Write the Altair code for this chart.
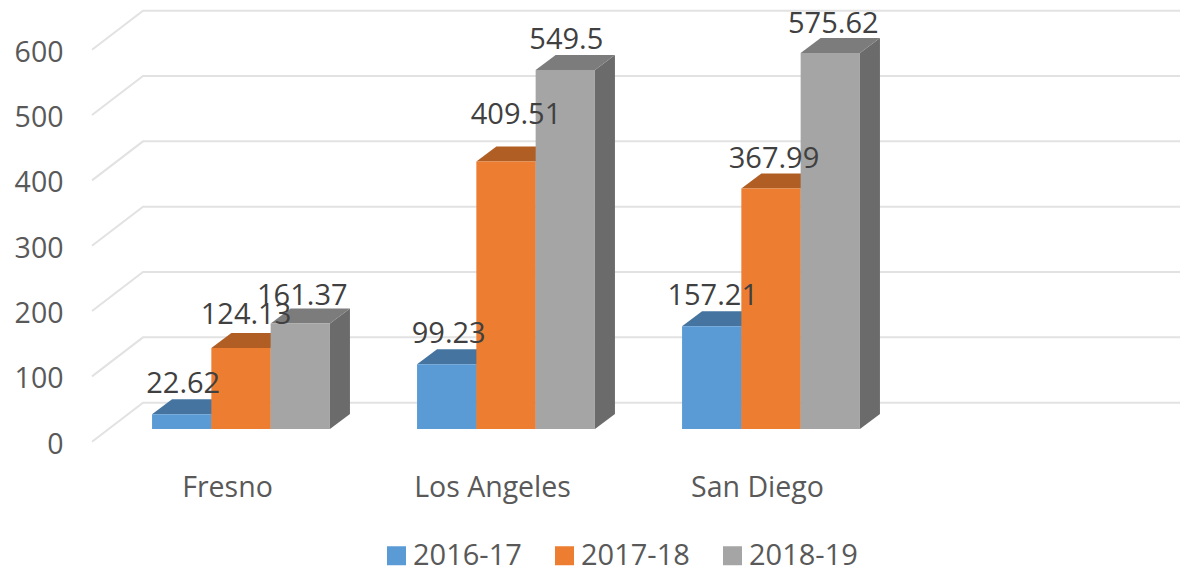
import altair as alt
import pandas as pd

cities = ["Fresno", "Los Angeles", "San Diego"]
series = ["2016-17", "2017-18", "2018-19"]
v2016 = [22.62, 99.23, 157.21]
v2017 = [124.13, 409.51, 367.99]
v2018 = [161.37, 549.5, 575.62]
y_ticks = [0, 100, 200, 300, 400, 500, 600]

front_colors = ["#5B9BD5", "#ED7D31", "#A5A5A5"]
top_colors = ["#44749F", "#B15E24", "#7C7C7C"]
side_colors = ["#3A6A96", "#A0521C", "#6B6B6B"]

# layout, in scale units (1 x unit = one category, 1 y unit = one value unit)
PX_X = 265.0
PX_Y = 0.6533
BAR_W = 59.3 / PX_X
DX = 20 / PX_X
DY = 15 / PX_Y
X_DOM = [(66 - 241) / PX_X, (1180 - 241) / PX_X]
Y_DOM = [(429 - 465) / PX_Y, (429 - 8) / PX_Y]
WALL_LEFT = (92 - 241) / PX_X
WALL_BACK = (143 - 241) / PX_X
FRONT_V = -19.4
BACK_V = 40.3
# label nudges in pixels: (series, city) -> (dx, dy above the bar top)
label_dx = [[1.5, 2, 1], [5, 10, 3], [2, 1, 3]]
label_dy = [[30, 30, 30], [33, 46, 30], [28, 30, 29]]

values = [v2016, v2017, v2018]
font = "Open Sans"

front_rows, top_rows, side_rows, label_rows = [], [], [], []
for s, name in enumerate(series):
    for c, city in enumerate(cities):
        v = values[s][c]
        x0 = c + (s - 1.5) * BAR_W
        x1 = x0 + BAR_W
        bid = f"{s}-{c}"
        front_rows.append(dict(s=name, x=x0, x2=x1, y=v, y2=0))
        top_rows += [
            dict(s=name, id=bid, y=v, x=x0, x2=x1),
            dict(s=name, id=bid, y=v + DY, x=x0 + DX, x2=x1 + DX),
        ]
        side_rows += [
            dict(s=name, id=bid, x=x1, y=v, y2=0),
            dict(s=name, id=bid, x=x1 + DX, y=v + DY, y2=DY),
        ]
        label_rows.append(dict(
            s=name,
            x=(x0 + x1) / 2 + label_dx[s][c] / PX_X,
            y=v + label_dy[s][c] / PX_Y,
            t=str(v),
        ))
front_df = pd.DataFrame(front_rows)
top_df = pd.DataFrame(top_rows)
side_df = pd.DataFrame(side_rows)
label_df = pd.DataFrame(label_rows)

grid_rows = []
for t in y_ticks:
    grid_rows += [
        dict(t=t, x=WALL_LEFT, y=t + FRONT_V, o=0),
        dict(t=t, x=WALL_BACK, y=t + BACK_V, o=1),
        dict(t=t, x=X_DOM[1], y=t + BACK_V, o=2),
    ]
grid_df = pd.DataFrame(grid_rows)

x_scale = alt.Scale(domain=X_DOM, nice=False, zero=False)
y_scale = alt.Scale(domain=Y_DOM, nice=False, zero=False)

label_expr = "datum.value == 0 ? 'Fresno' : datum.value == 1 ? 'Los Angeles' : 'San Diego'"
x_axis = alt.Axis(
    values=[0, 1, 2], labelExpr=label_expr, title=None, grid=False, domain=False, ticks=False,
    labelFont=font, labelFontSize=28.5, labelColor="#595959", labelOffset=-14, labelPadding=8,
    labelFlush=False, labelOverlap=False,
)
y_axis = alt.Axis(
    values=y_ticks, title=None, grid=False, domain=False, ticks=False,
    labelFont=font, labelFontSize=28.5, labelColor="#595959", labelOffset=15, labelPadding=3,
    format="d",
)
X = alt.X("x:Q", scale=x_scale, axis=x_axis)
Y = alt.Y("y:Q", scale=y_scale, axis=y_axis)

color = alt.Color(
    "s:N",
    scale=alt.Scale(domain=series, range=front_colors),
    legend=alt.Legend(
        title=None, orient="none", direction="horizontal", columns=3, legendX=316, legendY=533,
        symbolType="square", symbolSize=361, symbolStrokeWidth=0, symbolOpacity=1,
        labelFont=font, labelFontSize=29, labelColor="#595959", labelOffset=2,
        columnPadding=28, padding=0,
    ),
)

grid = alt.Chart(grid_df).mark_line(color="#E2E2E2", strokeWidth=2).encode(
    x=X, y=Y, detail="t:N", order="o:Q"
)

layers = [grid]
for s, name in enumerate(series):
    side = alt.Chart(side_df[side_df.s == name]).mark_area(color=side_colors[s], opacity=1).encode(
        x=X, y=Y, y2="y2:Q", detail="id:N"
    )
    top = alt.Chart(top_df[top_df.s == name]).mark_area(
        color=top_colors[s], orient="horizontal", opacity=1
    ).encode(x=X, x2="x2:Q", y=Y, detail="id:N")
    front = alt.Chart(front_df[front_df.s == name]).mark_rect().encode(
        x=X, x2="x2:Q", y=Y, y2="y2:Q", color=color
    )
    layers += [side, top, front]

labels = alt.Chart(label_df).mark_text(
    font=font, fontSize=29, color="#404040", baseline="middle", align="center"
).encode(x=X, y=Y, text="t:N")
layers.append(labels)

chart = alt.layer(*layers).properties(
    width=1114,
    height=457,
    autosize=alt.AutoSizeParams(type="none"),
    padding={"left": 58, "top": 0, "right": 0, "bottom": 107},
).configure_view(stroke=None)

chart.save("out.html", embed_options={"renderer": "svg", "actions": False})
